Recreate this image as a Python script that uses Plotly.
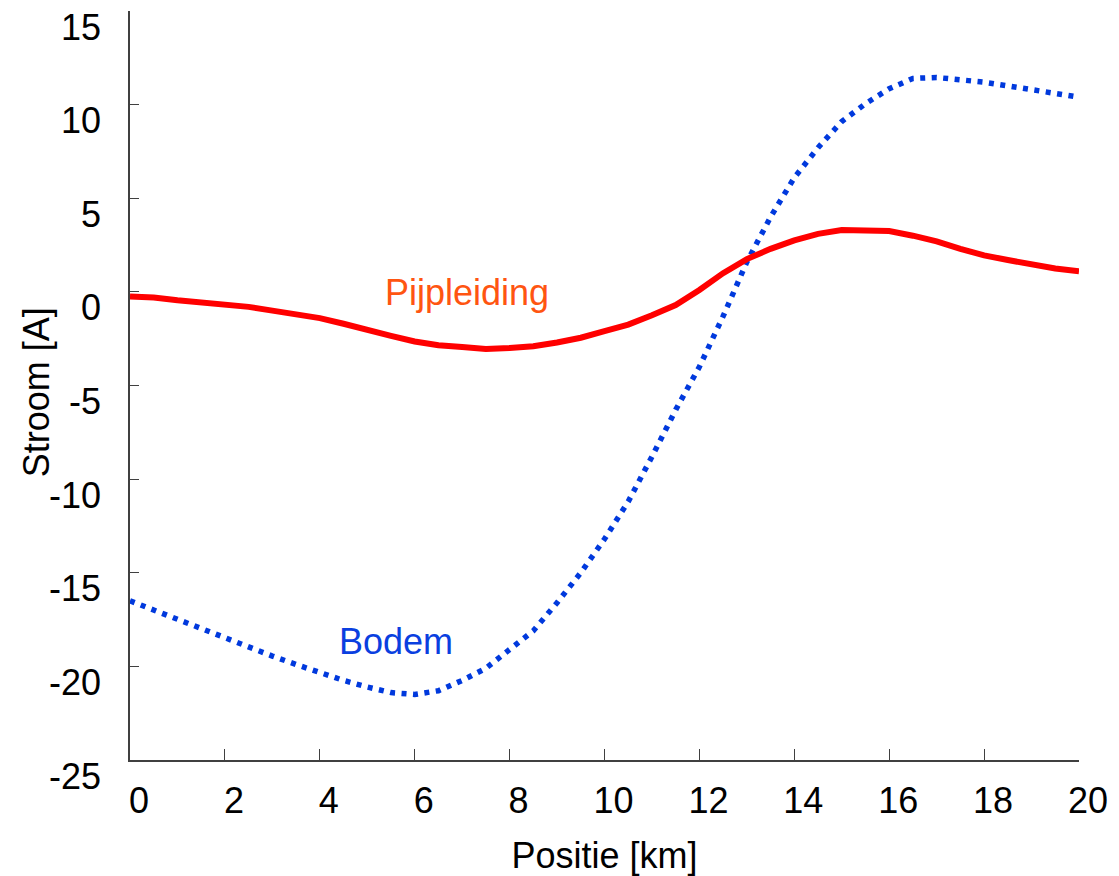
import plotly.graph_objects as go

positie_km = [0, 0.5, 1, 1.5, 2, 2.5, 3, 3.5, 4, 4.5, 5, 5.5, 6, 6.5, 7, 7.5, 8, 8.5, 9, 9.5,
              10, 10.5, 11, 11.5, 12, 12.5, 13, 13.5, 14, 14.5, 15, 15.5, 16, 16.5, 17, 17.5,
              18, 18.5, 19, 19.5, 20]

pijpleiding = [-0.25, -0.3, -0.45, -0.55, -0.65, -0.8, -1.0, -1.2, -1.4, -1.7, -2.05, -2.35,
               -2.65, -2.85, -2.95, -3.05, -3.0, -2.9, -2.7, -2.45, -2.1, -1.75, -1.25, -0.7,
               0.1, 1.0, 1.75, 2.3, 2.75, 3.1, 3.3, 3.3, 3.25, 3.0, 2.7, 2.3, 1.95, 1.7,
               1.45, 1.25, 1.1]

bodem = [-16.5, -17.0, -17.5, -18.0, -18.5, -19.0, -19.45, -19.9, -20.35, -20.75, -21.1, -21.4,
         -21.5, -21.3, -20.75, -20.1, -19.1, -18.1, -16.6, -15.0, -13.2, -11.2, -8.8, -6.3,
         -4.0, -1.3, 1.6, 4.0, 6.1, 7.7, 9.1, 10.05, 10.85, 11.4, 11.45, 11.35, 11.2, 11.0,
         10.8, 10.65, 10.4]

x_ticks = [0, 2, 4, 6, 8, 10, 12, 14, 16, 18, 20]
x_ticktext = ["0", "2", "4", "6", "8", "10", "12", "14", "16", "18", "20"]
y_ticks = [-25, -20, -15, -10, -5, 0, 5, 10, 15]
y_ticktext = ["-25", "-20", "-15", "-10", "-5", "0", "5", "10", "15"]

labels = ["Pijpleiding", "Bodem"]
label_x = [7.1, 5.6]
label_y = [-0.05, -18.65]

FONT = "Arial, Liberation Sans, sans-serif"
FS = 36

fig = go.Figure()
fig.add_trace(go.Scatter(x=positie_km, y=bodem, mode="lines", name=labels[1],
                         line=dict(color="#0039DD", width=5.5, dash="5px,6.5px")))
fig.add_trace(go.Scatter(x=positie_km, y=pijpleiding, mode="lines", name=labels[0],
                         line=dict(color="#FF0000", width=6)))

fig.add_annotation(x=label_x[0], y=label_y[0], text=labels[0], showarrow=False,
                   font=dict(family=FONT, size=FS, color="#FF5511"))
fig.add_annotation(x=label_x[1], y=label_y[1], text=labels[1], showarrow=False,
                   font=dict(family=FONT, size=FS, color="#0A3FE0"))
# y-axis title
fig.add_annotation(xref="paper", yref="paper", x=-0.099, y=0.491, text="Stroom [A]",
                   textangle=-90, showarrow=False, xanchor="center", yanchor="middle",
                   font=dict(family=FONT, size=FS, color="black"))

fig.update_layout(
    width=1119, height=876,
    margin=dict(l=122, r=48, t=3, b=124),
    paper_bgcolor="white", plot_bgcolor="white",
    showlegend=False,
    font=dict(family=FONT, size=FS, color="black"),
)
fig.update_xaxes(
    range=[0, 20], tickvals=x_ticks, ticktext=x_ticktext, ticks="inside", ticklen=11,
    tickcolor="#404040", showline=True, linecolor="#404040", linewidth=1.5,
    showgrid=False, zeroline=False, automargin=False, ticklabeloverflow="allow",
    tickfont=dict(family=FONT, size=FS), ticklabelshift=9, ticklabelstandoff=8,
    title=dict(text="Positie [km]", font=dict(family=FONT, size=FS), standoff=23),
)
fig.update_yaxes(
    range=[-25, 15], tickvals=y_ticks, ticktext=y_ticktext, ticks="inside", ticklen=9,
    tickcolor="#404040", showline=True, linecolor="#404040", linewidth=1.5,
    showgrid=False, zeroline=False, automargin=False, ticklabeloverflow="allow",
    tickfont=dict(family=FONT, size=FS), ticklabelshift=16, ticklabelstandoff=20,
)

fig.write_html("out.html")
